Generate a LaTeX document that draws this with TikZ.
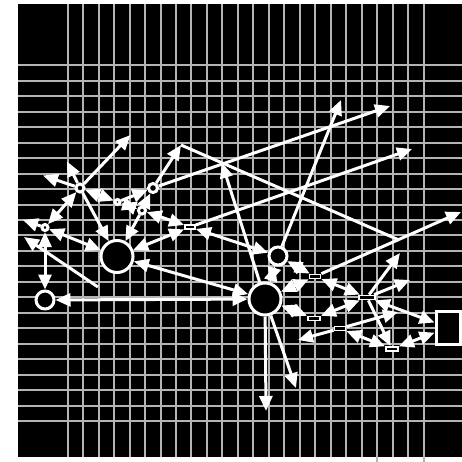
\documentclass[tikz,border=0pt]{standalone}
\usetikzlibrary{arrows.meta}
\definecolor{gridc}{HTML}{B4B4B4}
\begin{document}
\begin{tikzpicture}[x=1pt,y=-1pt,
  dot/.style={circle,draw=white,fill=black,line width=3pt,inner sep=0,minimum size=#1},
  tag/.style={rectangle,draw=white,fill=black,line width=1.8pt,inner sep=0,minimum width=#1,minimum height=4pt},
  edge/.style={white,line width=3pt,-{Triangle[length=15pt,width=13pt]}},
  both/.style={white,line width=3pt,{Triangle[length=15pt,width=13pt]}-{Triangle[length=15pt,width=13pt]}},
  plain/.style={white,line width=3pt}]
\useasboundingbox (0,0) rectangle (462,462);
\fill[white] (0,0) rectangle (462,462);
\fill[black] (18,4) rectangle (462,457);
% grid
\foreach \k in {0,...,23} {
  \draw[gridc,line width=2pt] ({67.7+15.47*\k},4) -- ({67.7+15.47*\k},457);
  \draw[gridc,line width=2pt] (18,{65.3+15.47*\k}) -- (462,{65.3+15.47*\k});
}
\draw[gridc,line width=2pt] (377.3,457) -- (377.3,462);
\draw[gridc,line width=2pt] (423.7,457) -- (423.7,462);
% nodes
\node[dot=8pt] (A) at (80,188) {};
\node[dot=9pt] (B) at (153,188) {};
\node[dot=5pt] (C) at (117.5,202) {};
\node[dot=7pt] (D) at (142,210.5) {};
\node[dot=6pt] (E) at (45,227.5) {};
\node[dot=32pt] (F) at (117,256.5) {};
\node[tag=10pt] (G) at (190,227) {};
\node[dot=18pt] (H) at (278,256) {};
\node[dot=32pt] (I) at (265,299) {};
\node[dot=18pt] (J) at (45,300) {};
\node[tag=11pt] (K) at (315,276.5) {};
\node[tag=16pt] (L) at (367,297.5) {};
\node[tag=12pt] (M) at (314,318.5) {};
\node[tag=11pt] (N) at (340,328.5) {};
\node[tag=12pt] (O) at (392,349) {};
\node[tag=24pt,minimum height=33pt,line width=3pt] (P) at (448,327.5) {};
% free ends
\coordinate (pa1) at (130.5,135);
\coordinate (pa2) at (43,175.5);
\coordinate (pa3) at (67,161.5);
\coordinate (pb1) at (390,106);
\coordinate (q1) at (181,145);
\coordinate (q2) at (399,240);
\coordinate (pe1) at (23,220);
\coordinate (qa) at (98,287);
\coordinate (qb) at (24,237);
\coordinate (pg1) at (412,149);
\coordinate (ph1) at (341,100);
\coordinate (pi1) at (222,163);
\coordinate (pi2) at (296,388);
\coordinate (pi3) at (266,411);
\coordinate (pk1) at (461,212);
\coordinate (pn1) at (298,340);
\coordinate (pn2) at (398,312);
\coordinate (pl1) at (400,253);
\coordinate (pl2) at (410,280);
% edges
\draw[edge] (A) -- (pa1);
\draw[edge] (A) -- (pa2);
\draw[edge] (A) -- (pa3);
\draw[edge] (A) -- (F);
\draw[both] (A) -- (E);
\draw[both] (A) -- (C);
\draw[both] (C) -- (D);
\draw[edge] (C) -- (B);
\draw[edge] (D) -- (B);
\draw[edge] (B) -- (pb1);
\draw[edge] (B) -- (q1);
\draw[plain] (q1) -- (q2);
\draw[both] (D) -- (G);
\draw[edge] (D) -- (F);
\draw[edge] (E) -- (pe1);
\draw[both] (E) -- (J);
\draw[both] (E) -- (F);
\draw[edge] (qa) -- (qb);
\draw[both] (F) -- (G);
\draw[both] (F) -- (I);
\draw[both] (I) -- (J);
\draw[edge] (G) -- (pg1);
\draw[both] (G) -- (H);
\draw[both] (H) -- (I);
\draw[edge] (H) -- (ph1);
\draw[edge] (I) -- (pi1);
\draw[edge] (I) -- (pi2);
\draw[edge] (I) -- (pi3);
\draw[both] (H) -- (K);
\draw[both] (K) -- (I);
\draw[edge] (K) -- (pk1);
\draw[both] (K) -- (L);
\draw[both] (L) -- (M);
\draw[both] (I) -- (M);
\draw[edge] (N) -- (pn1);
\draw[edge] (N) -- (pn2);
\draw[both] (N) -- (O);
\draw[edge] (L) -- (O);
\draw[both] (O) -- (P);
\draw[both] (L) -- (P);
\draw[edge] (L) -- (pl1);
\draw[edge] (L) -- (pl2);
\end{tikzpicture}
\end{document}
